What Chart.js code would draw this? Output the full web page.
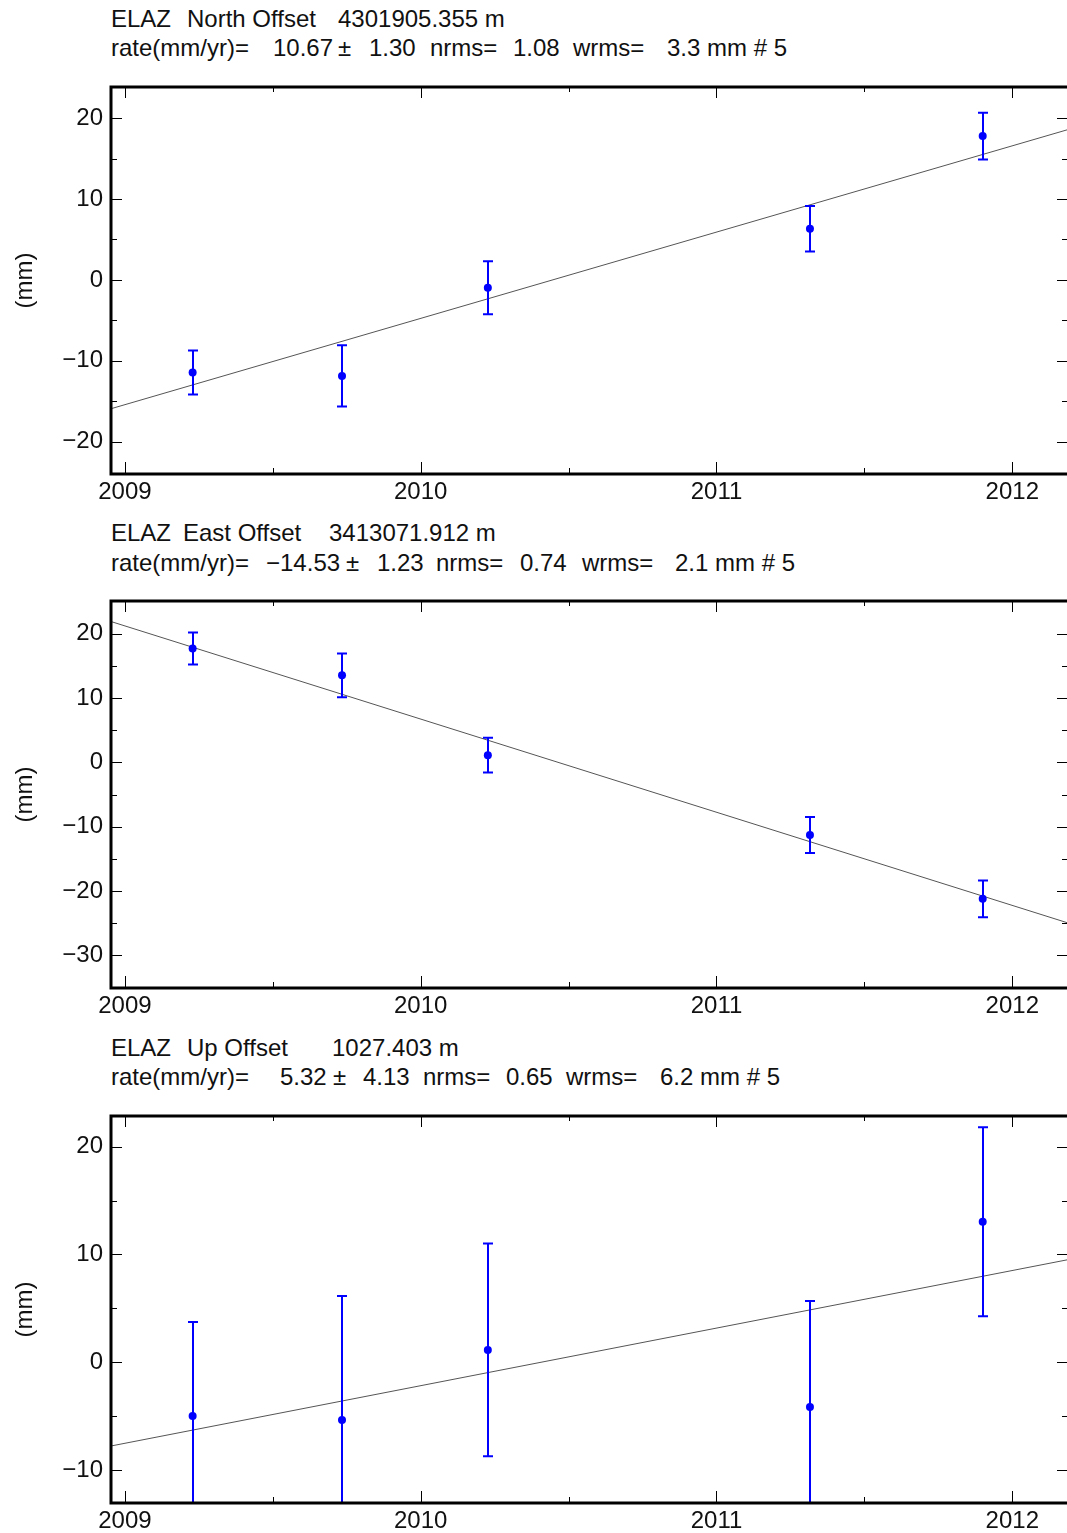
<!DOCTYPE html>
<html>
<head>
<meta charset="utf-8">
<script src="https://cdn.jsdelivr.net/npm/chart.js@4.4.0/dist/chart.umd.min.js"></script>
<style>
  html, body { margin: 0; padding: 0; background: #fff; overflow: hidden; }
  body { width: 1067px; height: 1533px; position: relative; font-family: 'Liberation Sans', Arial, sans-serif; }
  .t { position: absolute; font-size: 24px; line-height: 24px; white-space: pre; color: #111; }
  canvas { position: absolute; left: 0; }
</style>
</head>
<body>
<div id="titles"></div>
<canvas id="north" width="1067" height="430" style="top:80px"></canvas>
<canvas id="east" width="1067" height="430" style="top:594px"></canvas>
<canvas id="up" width="1067" height="430" style="top:1109px"></canvas>
<script>
// Data (decimal years, mm)
const epochs = [2009.229, 2009.734, 2010.227, 2011.316, 2011.900];
const yearTicks = [2009, 2010, 2011, 2012];
const xRange = [2008.953, 2012.185];

const northVals = [-11.45, -11.87, -0.98, 6.33, 17.78];
const northErr  = [2.72, 3.78, 3.28, 2.82, 2.9];
const northFit  = [-15.93, 18.55];   // fitted line at left / right edge
const northTicks = [-20, -10, 0, 10, 20];

const eastVals = [17.68, 13.5, 1.1, -11.3, -21.2];
const eastErr  = [2.48, 3.4, 2.7, 2.8, 2.85];
const eastFit  = [21.86, -24.9];
const eastTicks = [-30, -20, -10, 0, 10, 20];

const upVals = [-4.99, -5.36, 1.14, -4.15, 13.03];
const upErr  = [8.73, 11.5, 9.87, 9.84, 8.77];
const upFit  = [-7.77, 9.5];
const upTicks = [-10, 0, 10, 20];

// header text: [text, x, top]
const titles = [
  ['ELAZ', 111, 7], ['North Offset', 187, 7], ['4301905.355 m', 338, 7],
  ['rate(mm/yr)=', 111, 36], ['10.67', 273, 36], ['\u00b1', 338, 36], ['1.30', 369, 36],
  ['nrms=', 430, 36], ['1.08', 513, 36], ['wrms=', 573, 36], ['3.3 mm # 5', 667, 36],

  ['ELAZ', 111, 521], ['East Offset', 183, 521], ['3413071.912 m', 329, 521],
  ['rate(mm/yr)=', 111, 551], ['\u221214.53', 266, 551], ['\u00b1', 346, 551], ['1.23', 377, 551],
  ['nrms=', 436, 551], ['0.74', 520, 551], ['wrms=', 582, 551], ['2.1 mm # 5', 675, 551],

  ['ELAZ', 111, 1036], ['Up Offset', 187, 1036], ['1027.403 m', 332, 1036],
  ['rate(mm/yr)=', 111, 1065], ['5.32', 280, 1065], ['\u00b1', 333, 1065], ['4.13', 363, 1065],
  ['nrms=', 423, 1065], ['0.65', 506, 1065], ['wrms=', 566, 1065], ['6.2 mm # 5', 660, 1065]
];

const holder = document.getElementById('titles');
titles.forEach(([txt, x, y]) => {
  const s = document.createElement('span');
  s.className = 't';
  s.textContent = txt;
  s.style.left = x + 'px';
  s.style.top = y + 'px';
  holder.appendChild(s);
});

const FONT = "'Liberation Sans', Arial, sans-serif";
const minus = v => (v < 0 ? '\u2212' + Math.abs(v) : String(v));

// error bars, frame and inward tick marks
const decor = {
  id: 'decor',
  afterDatasetsDraw(chart, args, opts) {
    const { ctx, chartArea: a, scales: { x, y } } = chart;
    ctx.save();
    ctx.beginPath();
    ctx.rect(a.left, a.top, a.right - a.left, a.bottom - a.top);
    ctx.clip();
    ctx.strokeStyle = '#0000ff';
    ctx.lineWidth = 2;
    opts.vals.forEach((v, i) => {
      const px = Math.round(x.getPixelForValue(epochs[i]));
      const t = y.getPixelForValue(v + opts.errs[i]);
      const b = y.getPixelForValue(v - opts.errs[i]);
      ctx.beginPath();
      ctx.moveTo(px, t); ctx.lineTo(px, b);
      ctx.moveTo(px - 5, t); ctx.lineTo(px + 5, t);
      ctx.moveTo(px - 5, b); ctx.lineTo(px + 5, b);
      ctx.stroke();
    });
    ctx.restore();
  },
  afterDraw(chart) {
    const { ctx, chartArea: a, scales: { x, y } } = chart;
    ctx.save();
    ctx.strokeStyle = '#000';
    ctx.lineWidth = 1;
    ctx.beginPath();
    for (let v = Math.ceil(y.min / 5) * 5; v <= y.max; v += 5) {
      const py = Math.round(y.getPixelForValue(v)) + 0.5;
      const len = v % 10 === 0 ? 11 : 6;
      ctx.moveTo(a.left, py); ctx.lineTo(a.left + len, py);
      ctx.moveTo(a.right - len + 1, py); ctx.lineTo(a.right, py);
    }
    for (let v = 2009; v <= x.max; v += 0.5) {
      const px = Math.round(x.getPixelForValue(v)) + 0.5;
      const major = v % 1 === 0;
      ctx.moveTo(px, a.top); ctx.lineTo(px, a.top + (major ? 11 : 5));
      ctx.moveTo(px, a.bottom); ctx.lineTo(px, a.bottom - (major ? 12 : 6));
    }
    ctx.stroke();
    ctx.lineWidth = 3;
    ctx.beginPath();
    ctx.moveTo(a.right, a.top);
    ctx.lineTo(a.left, a.top);
    ctx.lineTo(a.left, a.bottom);
    ctx.lineTo(a.right, a.bottom);
    ctx.stroke();
    ctx.restore();
  }
};

function makePanel(id, yMin, yMax, ticks, vals, errs, fit) {
  return new Chart(document.getElementById(id), {
    type: 'scatter',
    data: {
      datasets: [{
        data: vals.map((v, i) => ({ x: epochs[i], y: v })),
        backgroundColor: '#0000ff',
        borderWidth: 0,
        pointRadius: 4
      }, {
        type: 'line',
        data: [{ x: xRange[0], y: fit[0] }, { x: xRange[1], y: fit[1] }],
        borderColor: '#555',
        borderWidth: 1,
        pointRadius: 0
      }]
    },
    options: {
      responsive: false,
      animation: false,
      devicePixelRatio: 1,
      layout: { autoPadding: false, padding: { top: 7, left: 0, right: 0, bottom: 0 } },
      plugins: {
        legend: { display: false },
        tooltip: { enabled: false },
        decor: { vals: vals, errs: errs }
      },
      scales: {
        x: {
          type: 'linear',
          min: xRange[0],
          max: xRange[1],
          grid: { display: false, drawTicks: false },
          border: { display: false },
          afterBuildTicks: s => { s.ticks = yearTicks.map(v => ({ value: v })); },
          afterFit: s => { s.height = 36; s.paddingLeft = 0; s.paddingRight = 0; },
          ticks: {
            padding: 4, color: '#111', maxRotation: 0, autoSkip: false,
            font: { family: FONT, size: 24 },
            callback: v => String(v)
          }
        },
        y: {
          min: yMin,
          max: yMax,
          grid: { display: false, drawTicks: false },
          border: { display: false },
          afterBuildTicks: s => { s.ticks = ticks.map(v => ({ value: v })); },
          afterFit: s => { s.width = 111; s.paddingTop = 0; s.paddingBottom = 0; },
          ticks: {
            padding: 8, color: '#111',
            font: { family: FONT, size: 24 },
            callback: v => minus(v)
          },
          title: {
            display: true, text: '(mm)', color: '#111',
            font: { family: FONT, size: 24 },
            padding: { top: 11, bottom: 0 }
          }
        }
      }
    },
    plugins: [decor]
  });
}

makePanel('north', -24, 23.85, northTicks, northVals, northErr, northFit);
makePanel('east', -35.05, 25.05, eastTicks, eastVals, eastErr, eastFit);
makePanel('up', -13.06, 22.85, upTicks, upVals, upErr, upFit);
</script>
</body>
</html>
